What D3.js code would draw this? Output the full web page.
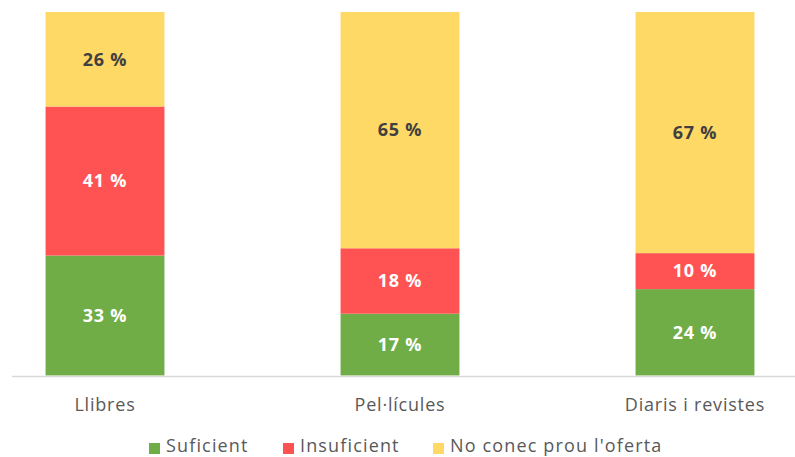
<!DOCTYPE html>
<html>
<head>
<meta charset="utf-8">
<script src="https://cdn.jsdelivr.net/npm/d3@7"></script>
<style>
  html, body { margin: 0; padding: 0; background: #fff; }
  svg { display: block; }
  .cat-label { font-family: "Open Sans", sans-serif; font-size: 18px; letter-spacing: 0.8px; fill: #595959; }
  .val-label { font-family: "Open Sans", sans-serif; font-size: 18px; font-weight: bold; letter-spacing: 0.8px; }
  .legend-label { font-family: "Open Sans", sans-serif; font-size: 18px; letter-spacing: 1.15px; fill: #595959; }
</style>
</head>
<body>
<div id="chart"></div>
<script>
// dades
const categories = ["Llibres", "Pel·lícules", "Diaris i revistes"];
const seriesNames = ["Suficient", "Insuficient", "No conec prou l'oferta"];
const suficient = [33, 17, 24];
const insuficient = [41, 18, 10];
const noConec = [26, 65, 67];
const colors = ["#70AD47", "#FF5353", "#FFD966"];
const labelColors = ["#ffffff", "#ffffff", "#404040"];

const width = 795, height = 457;

const svg = d3.select("#chart")
  .append("svg")
  .attr("width", width)
  .attr("height", height);

// taula per a l'stack (100 %)
const rows = categories.map((c, i) => {
  const total = suficient[i] + insuficient[i] + noConec[i];
  return {
    cat: c,
    s0: suficient[i] / total, s1: insuficient[i] / total, s2: noConec[i] / total,
    raw: [suficient[i], insuficient[i], noConec[i]]
  };
});
const stack = d3.stack().keys(["s0", "s1", "s2"]);
const layers = stack(rows);

const x = d3.scaleBand()
  .domain(categories)
  .range([-42.5, 842.5])
  .paddingInner(0.597)
  .paddingOuter(0.2985);

const y = d3.scaleLinear()
  .domain([0, 1])
  .range([375.5, 12]);

// barres
const g = svg.append("g");
layers.forEach((layer, li) => {
  g.selectAll(".seg" + li)
    .data(layer)
    .join("rect")
    .attr("x", d => x(d.data.cat))
    .attr("width", x.bandwidth())
    .attr("y", d => y(d[1]))
    .attr("height", d => y(d[0]) - y(d[1]))
    .attr("fill", colors[li]);

  g.selectAll(".val" + li)
    .data(layer)
    .join("text")
    .attr("class", "val-label")
    .attr("x", d => x(d.data.cat) + x.bandwidth() / 2)
    .attr("y", d => (y(d[0]) + y(d[1])) / 2)
    .attr("dy", "0.35em")
    .attr("text-anchor", "middle")
    .attr("fill", labelColors[li])
    .text(d => d.data.raw[li] + " %");
});

// eix
svg.append("line")
  .attr("x1", 12).attr("x2", width)
  .attr("y1", 376.5).attr("y2", 376.5)
  .attr("stroke", "#d9d9d9")
  .attr("stroke-width", 1.5);

svg.append("g")
  .selectAll("text")
  .data(categories)
  .join("text")
  .attr("class", "cat-label")
  .attr("x", d => x(d) + x.bandwidth() / 2)
  .attr("y", 411)
  .attr("text-anchor", "middle")
  .text(d => d);

// llegenda
const legendX = [166, 300, 450];
const legend = svg.append("g")
  .selectAll("g")
  .data(seriesNames)
  .join("g")
  .attr("transform", (d, i) => `translate(${legendX[i]},0)`);

legend.append("rect")
  .attr("x", -17)
  .attr("y", 443)
  .attr("width", 11).attr("height", 11)
  .attr("fill", (d, i) => colors[i]);

legend.append("text")
  .attr("class", "legend-label")
  .attr("x", 0)
  .attr("y", 452)
  .text(d => d);
</script>
</body>
</html>
